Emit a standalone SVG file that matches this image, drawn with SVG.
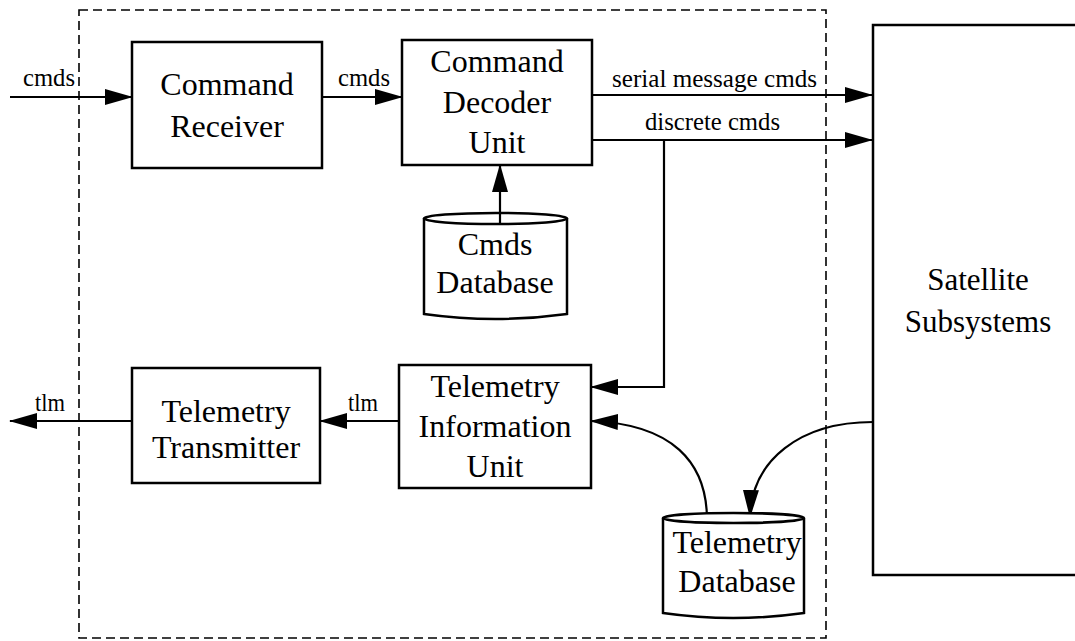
<svg xmlns="http://www.w3.org/2000/svg" width="1075" height="641" viewBox="0 0 1075 641">
<style>
.box{fill:#fff;stroke:#000;stroke-width:2.5}
.db{fill:#fff;stroke:#000;stroke-width:2.5}
.t{font-family:"Liberation Serif","Times New Roman",serif;font-size:32px;fill:#000;text-anchor:middle}
.l{font-family:"Liberation Serif","Times New Roman",serif;font-size:25px;fill:#000}
.c{fill:none;stroke:#000;stroke-width:2.2}
.dash{fill:none;stroke:#000;stroke-width:1.6;stroke-dasharray:9 5}
</style>
<defs>
<marker id="ah" markerUnits="userSpaceOnUse" markerWidth="28" markerHeight="16" refX="27" refY="8" orient="auto" viewBox="0 0 28 16">
<path d="M0,0 L28,8 L0,16 z" fill="#000"/>
</marker>
</defs>
<rect width="1075" height="641" fill="#fff"/>
<rect id="boundary" class="dash" x="79" y="10" width="747" height="628"/>

<g id="connectors">
<line class="c" x1="10" y1="97" x2="132" y2="97" marker-end="url(#ah)"/>
<line class="c" x1="322" y1="97" x2="402" y2="97" marker-end="url(#ah)"/>
<line class="c" x1="593" y1="95" x2="872" y2="95" marker-end="url(#ah)"/>
<line class="c" x1="593" y1="140" x2="872" y2="140" marker-end="url(#ah)"/>
<polyline class="c" points="664,140 664,387 591,387" marker-end="url(#ah)"/>
<line class="c" x1="500" y1="222" x2="500" y2="165" marker-end="url(#ah)"/>
<line class="c" x1="399" y1="421" x2="320" y2="421" marker-end="url(#ah)"/>
<line class="c" x1="132" y1="421" x2="10" y2="421" marker-end="url(#ah)"/>
<path class="c" d="M707,520 C707,462 672,424 591,421" marker-end="url(#ah)"/>
<path class="c" d="M873,422 C800,422 752,460 750,517" marker-end="url(#ah)"/>
<text class="l" x="23" y="86" textLength="52" lengthAdjust="spacingAndGlyphs">cmds</text>
<text class="l" x="338" y="86" textLength="52" lengthAdjust="spacingAndGlyphs">cmds</text>
<text class="l" x="612" y="87" textLength="205" lengthAdjust="spacingAndGlyphs">serial message cmds</text>
<text class="l" x="645" y="130" textLength="135" lengthAdjust="spacingAndGlyphs">discrete cmds</text>
<text class="l" x="35" y="411" textLength="30" lengthAdjust="spacingAndGlyphs">tlm</text>
<text class="l" x="348" y="411" textLength="30" lengthAdjust="spacingAndGlyphs">tlm</text>
</g>

<g id="command-receiver">
<rect class="box" x="132" y="42" width="190" height="126"/>
<text class="t" x="227" y="95">Command</text>
<text class="t" x="227" y="137">Receiver</text>
</g>

<g id="command-decoder">
<rect class="box" x="402" y="40" width="190" height="125"/>
<text class="t" x="497" y="72">Command</text>
<text class="t" x="497" y="113">Decoder</text>
<text class="t" x="497" y="153">Unit</text>
</g>

<g id="cmds-database">
<path class="db" d="M424,218 L424,314 Q495,324 567,314 L567,218"/>
<ellipse class="db" cx="495.5" cy="218.5" rx="71.5" ry="5.5"/>
<line class="c" x1="500" y1="213" x2="500" y2="224"/>
<text class="t" x="495" y="255">Cmds</text>
<text class="t" x="495" y="293">Database</text>
</g>

<g id="telemetry-info">
<rect class="box" x="399" y="365" width="192" height="123"/>
<text class="t" x="495" y="397">Telemetry</text>
<text class="t" x="495" y="437">Information</text>
<text class="t" x="495" y="477">Unit</text>
</g>

<g id="telemetry-transmitter">
<rect class="box" x="132" y="368" width="188" height="115"/>
<text class="t" x="226" y="422">Telemetry</text>
<text class="t" x="226" y="458">Transmitter</text>
</g>

<g id="telemetry-database">
<path class="db" d="M663,518 L663,613 Q733,623 804,613 L804,518"/>
<ellipse class="db" cx="733.5" cy="518" rx="70.5" ry="5"/>
<text class="t" x="737" y="553">Telemetry</text>
<text class="t" x="737" y="592">Database</text>
</g>

<g id="satellite-subsystems">
<rect class="box" x="873" y="25" width="220" height="550"/>
<text class="t" x="978" y="290" style="font-size:31px">Satellite</text>
<text class="t" x="978" y="332" style="font-size:31px">Subsystems</text>
</g>
</svg>
